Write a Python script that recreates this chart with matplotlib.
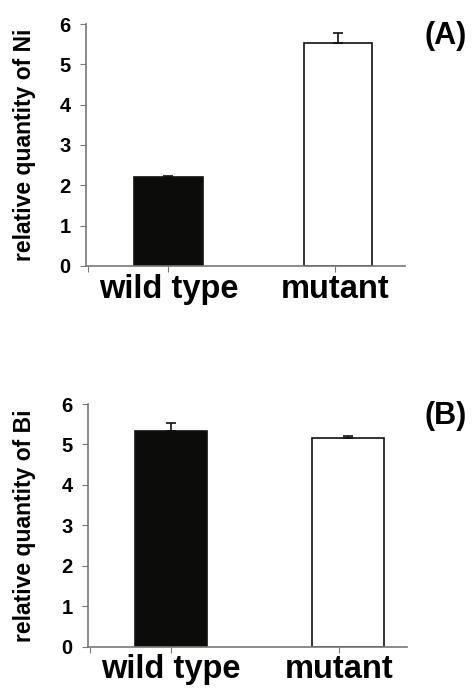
import numpy as np
import matplotlib.pyplot as plt

plt.rcParams['font.family'] = ['Liberation Sans', 'DejaVu Sans']
plt.rcParams['font.weight'] = 'bold'

categorias = ["wild type", "mutant"]
colores = ["#0c0d0a", "white"]

ni_valores = [2.21, 5.53]
ni_error = [0.03, 0.25]

bi_valores = [5.34, 5.17]
bi_error = [0.20, 0.05]

W, H = 475, 689
fig = plt.figure(figsize=(W/100, H/100), dpi=100)

def panel(rect, valores, errores, ylabel, letra, xlim, ancho, desfase):
    ax = fig.add_axes(rect)
    pos = np.arange(len(categorias))
    xb = pos + np.array(desfase)  # en el original las barras no quedan justo sobre el tick
    ax.bar(xb, valores, width=ancho, color=colores, edgecolor="#111111", linewidth=1.2, zorder=2)
    ax.errorbar(xb, valores, yerr=[np.zeros(len(errores)), errores], fmt="none",
                ecolor="#111111", elinewidth=1.2, capsize=3.5, capthick=1.2, zorder=3)
    ax.set_xlim(*xlim)
    ax.set_ylim(0, 6)
    ax.set_yticks(range(7))
    # tick extra en el inicio del eje x, sin etiqueta
    ax.set_xticks([xlim[0] + 0.01] + list(pos))
    ax.set_xticklabels([""] + categorias, fontsize=23.5, fontweight="bold")
    ax.tick_params(axis="y", labelsize=14.5, direction="out", length=4, color="#777777", pad=7)
    ax.tick_params(axis="x", direction="out", length=4, color="#777777", pad=1.5)
    for s in ["top", "right"]:
        ax.spines[s].set_visible(False)
    for s in ["left", "bottom"]:
        ax.spines[s].set_color("#777777")
        ax.spines[s].set_linewidth(1.2)
    ax.set_ylabel(ylabel, fontsize=16.5, fontweight="bold")
    ax.yaxis.set_label_coords((25 - rect[0]*W) / (rect[2]*W), 0.5)
    ax.yaxis.label.set_verticalalignment("center")
    fig.text(446/W, rect[1] + rect[3] - 12/H, letra, fontsize=22, fontweight="bold",
             ha="center", va="center")
    return ax

ax1 = panel([86/W, 1-266/H, (405-86)/W, (266-24)/H], ni_valores, ni_error,
            "relative quantity of Ni", "(A)", (-0.494, 1.417), 0.41, [0.0, 0.015])
ax2 = panel([88/W, 1-646.7/H, (407-88)/W, (646.7-404)/H], bi_valores, bi_error,
            "relative quantity of Bi", "(B)", (-0.495, 1.407), 0.43, [0.0, 0.055])

fig.savefig("out.png", dpi=100)
